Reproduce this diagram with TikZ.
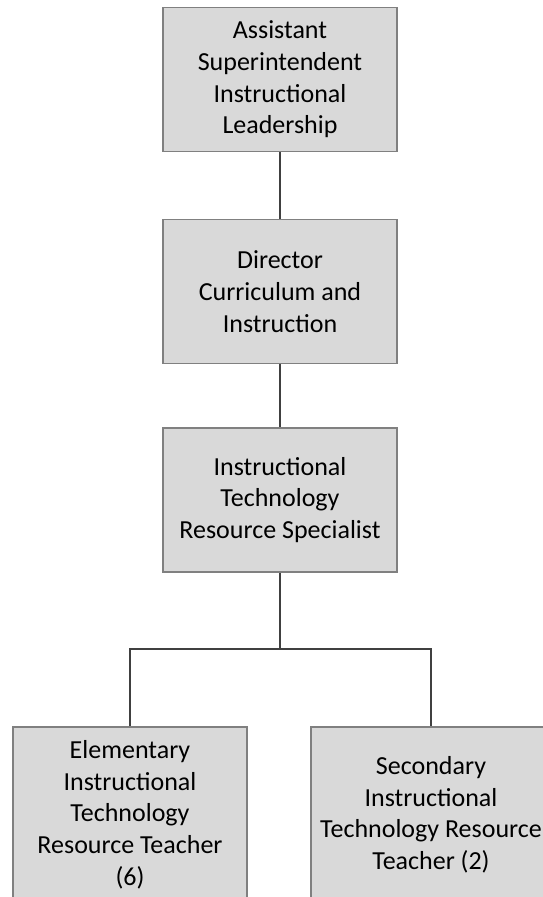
\documentclass[tikz,border=0pt]{standalone}
\usepackage{fontspec}
\setmainfont{Carlito}
\definecolor{boxfill}{HTML}{D9D9D9}
\definecolor{boxline}{HTML}{808080}
\definecolor{linkline}{HTML}{404040}
\begin{document}
\begin{tikzpicture}[x=1pt,y=-1pt,
  orgbox/.style={draw=boxline, fill=boxfill, line width=1.5pt,
    minimum width=234pt, minimum height=144pt, inner sep=0pt,
    align=center, text=black, font=\fontsize{26}{31.7}\selectfont},
  leafbox/.style={orgbox, anchor=north, minimum height=176pt},
  link/.style={draw=linkline, line width=2pt}]
\useasboundingbox (0,0) rectangle (543,897);
\clip (0,0) rectangle (543,897);

% chain of command
\node[orgbox] (asst) at (280,79.5)
  {Assistant\\Superintendent\\Instructional\\Leadership};
\node[orgbox] (dir) at (280,291.5)
  {Director\\Curriculum and\\Instruction};
\node[orgbox] (itrs) at (280,500)
  {Instructional\\Technology\\Resource Specialist};

% resource teachers
\node[leafbox, minimum width=234pt] (elem) at (130,726)
  {Elementary\\Instructional\\Technology\\Resource Teacher\\(6)};
\node[leafbox, minimum width=240pt] (sec) at (431,726)
  {Secondary\\Instructional\\Technology Resource\\Teacher (2)};

% connectors
\coordinate (split) at (280,649);
\draw[link] (asst.south) -- (dir.north);
\draw[link] (dir.south) -- (itrs.north);
\draw[link] (itrs.south) -- (split);
\draw[link] (elem.north) |- (split) -| (sec.north);
\end{tikzpicture}
\end{document}
